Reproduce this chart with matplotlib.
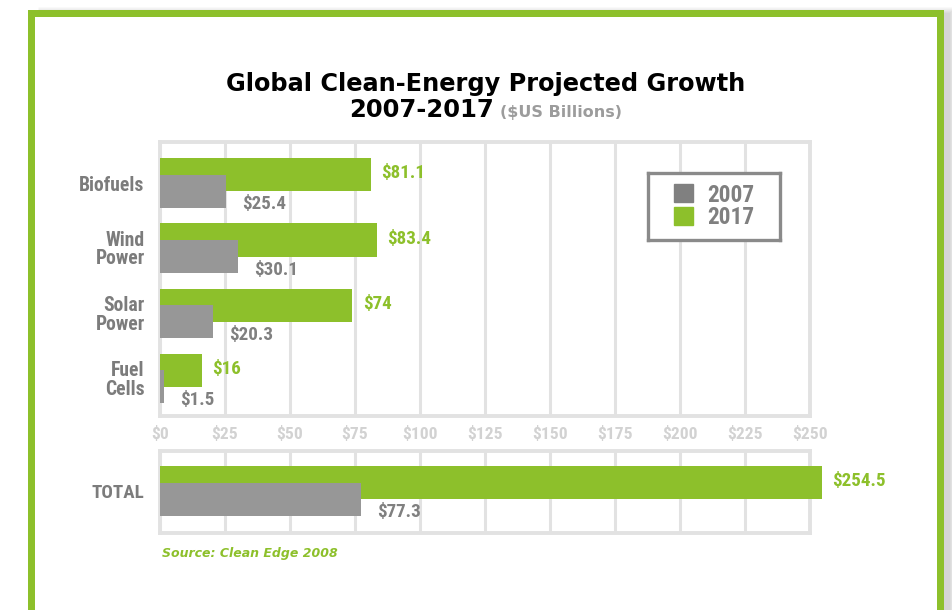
import numpy as np
import matplotlib
matplotlib.use("Agg")
import matplotlib.pyplot as plt
from matplotlib.patches import Rectangle, Patch
from matplotlib import font_manager

# ---- data ($US billions) ----
categories = ["Biofuels", "Wind\nPower", "Solar\nPower", "Fuel\nCells"]
values_2007 = [25.4, 30.1, 20.3, 1.5]
values_2017 = [81.1, 83.4, 74.0, 16.0]
total_label = "TOTAL"
total_2007 = 77.3
total_2017 = 254.5
xticks = [0, 25, 50, 75, 100, 125, 150, 175, 200, 225, 250]
xtick_labels = [f"${t}" for t in xticks]
series_names = ["2007", "2017"]

# ---- style ----
W, H = 953, 610
GREEN = "#8dc02b"
GRAY_BAR = "#979797"
GRAY_LEG = "#808080"
GRAY_TXT = "#7c7c7c"
GRID = "#e2e2e2"
TICK_TXT = "#d2d2d2"

# condensed-looking font for labels (narrow one if installed, else Roboto)
names = {f.name for f in font_manager.fontManager.ttflist}
COND = dict(family="Roboto")
SCALE = 1.0
for fam in ["Liberation Sans Narrow", "Roboto Condensed", "Arial Narrow"]:
    if fam in names:
        COND = dict(family=fam)
        SCALE = 1.05
        break

BAR_H = 0.508
OFF = 0.126

fig = plt.figure(figsize=(W / 100, H / 100), dpi=100)
fig.patch.set_facecolor("white")


def px_axes(left, top, right, bottom, **kw):
    return fig.add_axes([left / W, 1 - bottom / H, (right - left) / W, (bottom - top) / H], **kw)


# background + green frame with soft shadow (falls to the right)
bg = px_axes(0, 0, W, H, zorder=0)
bg.set_xlim(0, W)
bg.set_ylim(H, 0)
bg.axis("off")
for k in range(7):
    bg.add_patch(Rectangle((38, 16), 908, 700, fill=False, lw=(7 + 2.0 * k) * 0.72,
                           edgecolor="black", alpha=0.022, joinstyle="miter"))
bg.add_patch(Rectangle((31.5, 12.5), 909, 700, facecolor="white", edgecolor=GREEN,
                       lw=7 * 0.72, joinstyle="miter"))


def style_axes(ax):
    ax.set_xlim(0, 250)
    ax.set_xticks(xticks)
    ax.grid(axis="x", color=GRID, lw=2.2, zorder=0)
    ax.set_axisbelow(True)
    for s in ax.spines.values():
        s.set_color(GRID)
        s.set_linewidth(2.8)
    ax.tick_params(length=0)


def label_bars(ax, y, v17, v07, fs):
    ax.annotate(f"${v17:g}", xy=(v17, y - OFF), xytext=(7.5, 1), textcoords="offset points",
                ha="left", va="center", color=GREEN, fontsize=fs, fontweight="bold",
                annotation_clip=False, **COND)
    ax.annotate(f"${v07:g}", xy=(v07, y + OFF), xytext=(11.5, -9.5), textcoords="offset points",
                ha="left", va="center", color=GRAY_LEG, fontsize=fs, fontweight="bold",
                annotation_clip=False, **COND)


# ---- top panel ----
ax = px_axes(160, 142, 810, 416, zorder=2)
style_axes(ax)
y = np.arange(len(categories))
ax.barh(y - OFF, values_2017, height=BAR_H, color=GREEN, zorder=3)
ax.barh(y + OFF, values_2007, height=BAR_H, color=GRAY_BAR, zorder=4)
ax.set_ylim(3.577, -0.631)
ax.set_yticks(y)
ax.set_yticklabels(categories, color=GRAY_TXT, fontsize=13.5 * SCALE, fontweight="bold",
                   linespacing=0.95, **COND)
ax.set_xticklabels(xtick_labels, color=TICK_TXT, fontsize=12 * SCALE, fontweight="bold", **COND)
ax.tick_params(axis="y", pad=11)
ax.tick_params(axis="x", pad=7)
for yi, v17, v07 in zip(y, values_2017, values_2007):
    label_bars(ax, yi, v17, v07, 13 * SCALE)

# ---- total panel ----
ax2 = px_axes(160, 451, 810, 533, zorder=2)
style_axes(ax2)
ax2.set_xticklabels([])
ax2.barh([0 - OFF], [total_2017], height=BAR_H, color=GREEN, zorder=3, clip_on=False)
ax2.barh([0 + OFF], [total_2007], height=BAR_H, color=GRAY_BAR, zorder=4)
ax2.set_ylim(0.646, -0.615)
ax2.set_yticks([0])
ax2.set_yticklabels([total_label], color=GRAY_TXT, fontsize=13 * SCALE, fontweight="bold", **COND)
ax2.tick_params(axis="y", pad=11)
label_bars(ax2, 0, total_2017, total_2007, 13 * SCALE)

# ---- legend (white box drawn as its own axes) ----
lax = px_axes(648, 173, 780, 240, zorder=5)
lax.set_xticks([])
lax.set_yticks([])
lax.set_facecolor("white")
for s in lax.spines.values():
    s.set_color("#8a8a8a")
    s.set_linewidth(2.4)
handles = [Patch(color=GRAY_LEG, label=series_names[0]), Patch(color=GREEN, label=series_names[1])]
leg = lax.legend(handles=handles, loc="center", frameon=False,
                 handlelength=0.8, handleheight=0.8, handletextpad=0.6, labelspacing=0.0,
                 borderpad=0, borderaxespad=0,
                 prop=dict(size=16 * SCALE, weight="bold", **COND), labelcolor=GRAY_LEG)

# ---- titles ----
fig.text(486 / W, 1 - 91 / H, "Global Clean-Energy Projected Growth", ha="center", va="baseline",
         fontsize=17.3, fontweight="bold", color="black")
fig.text(494 / W, 1 - 117 / H, "2007-2017", ha="right", va="baseline",
         fontsize=17.5, fontweight="bold", color="black")
fig.text(500 / W, 1 - 117 / H, "($US Billions)", ha="left", va="baseline",
         fontsize=11.5, fontweight="bold", color="#9c9c9c")
fig.text(162 / W, 1 - 554 / H, "Source: Clean Edge 2008", ha="left", va="center",
         fontsize=9, fontweight="bold", fontstyle="italic", color=GREEN)

fig.savefig("out.png", dpi=100)
